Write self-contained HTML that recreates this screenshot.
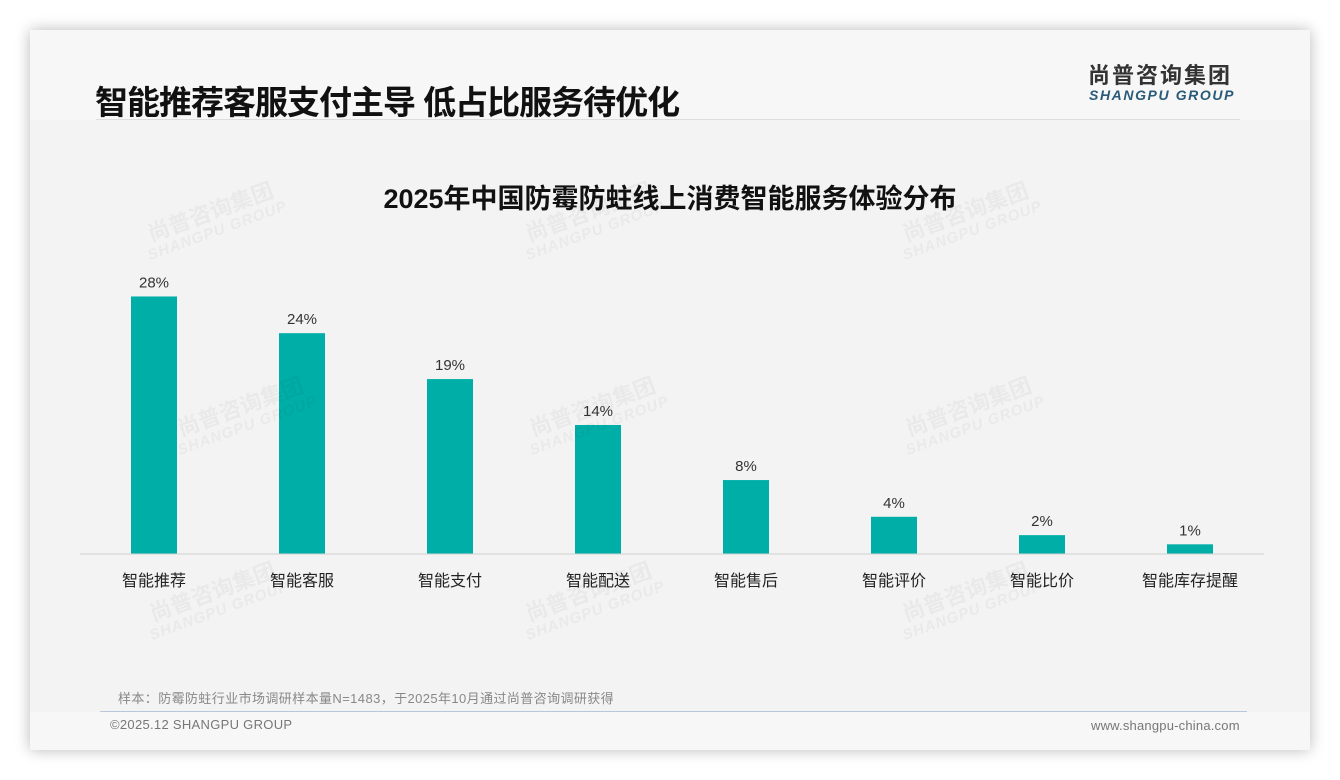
<!DOCTYPE html>
<html><head><meta charset="utf-8"><style>
body{margin:0;width:1340px;height:780px;background:#fff;font-family:"Liberation Sans","Noto Sans CJK SC",sans-serif;position:relative;overflow:hidden}
.card{position:absolute;left:30px;top:30px;width:1280px;height:720px;background:#f7f7f7;box-shadow:0 0 14px rgba(0,0,0,.28)}
.panel{position:absolute;left:30px;top:120px;width:1280px;height:592px;background:#f3f3f3}
.abs{position:absolute}
.wm{position:absolute;color:rgba(0,0,0,.04);font-weight:bold;transform:rotate(-20deg);text-align:center;line-height:1.1}
</style></head><body>
<div class="card"></div>
<div class="panel"></div>
<div class="abs" style="left:95px;top:76px;font-size:33px;font-weight:bold;color:#111;letter-spacing:-1px">智能推荐客服支付主导 低占比服务待优化</div>
<div class="abs" style="left:96px;top:119px;width:1144px;height:1px;background:#ddd"></div>
<div class="abs" style="left:1088px;top:65px;font-size:22px;line-height:1;font-weight:bold;color:#333;letter-spacing:2px">尚普咨询集团</div>
<div class="abs" style="left:1089px;top:88px;font-size:14px;line-height:1;font-weight:bold;font-style:italic;color:#2a5a7a;letter-spacing:1.6px">SHANGPU GROUP</div>
<div class="abs" style="left:0;width:1340px;text-align:center;top:177px;font-size:27px;font-weight:bold;color:#111">2025年中国防霉防蛀线上消费智能服务体验分布</div>
<svg class="abs" style="left:0;top:0" width="1340" height="780"></svg>
<div class="abs" style="left:118px;top:688px;font-size:13px;color:#888;letter-spacing:0.4px">样本：防霉防蛀行业市场调研样本量N=1483，于2025年10月通过尚普咨询调研获得</div>
<div class="abs" style="left:100px;top:711px;width:1147px;height:1px;background:#b8c8d8"></div>
<div class="abs" style="left:110px;top:717px;font-size:13px;color:#777;letter-spacing:0.3px">©2025.12 SHANGPU GROUP</div>
<div class="abs" style="left:1091px;top:718px;font-size:13px;color:#777;letter-spacing:0.2px">www.shangpu-china.com</div>
<div id="wms"></div>
<script>
const categories=["智能推荐","智能客服","智能支付","智能配送","智能售后","智能评价","智能比价","智能库存提醒"];
const values=[28,24,19,14,8,4,2,1];
const valueLabels=["28%","24%","19%","14%","8%","4%","2%","1%"];
const svg=document.querySelector('svg');const NS='http://www.w3.org/2000/svg';
const x0=80,x1=1264,base=553.5,ppu=9.18,bw=46;
const step=(x1-x0)/categories.length;
const xs=i=>x0+step*(i+0.5);
const ys=v=>base-v*ppu;
function mk(t,a){const e=document.createElementNS(NS,t);for(const k in a)e.setAttribute(k,a[k]);svg.appendChild(e);return e;}
const ax=mk('line',{x1:x0,x2:x1,y1:base+0.5,y2:base+0.5,stroke:'#d0d0d0','stroke-width':1});


categories.forEach((c,i)=>{
 const r=mk('rect',{x:xs(i)-bw/2,y:ys(values[i]),width:bw,height:values[i]*ppu,fill:'#00aea8'});
 
 
 const t=mk('text',{x:xs(i),y:ys(values[i])-9,'text-anchor':'middle','font-size':15,fill:'#333'});t.textContent=valueLabels[i];
 
 
 const l=mk('text',{x:xs(i),y:586,'text-anchor':'middle','font-size':16,fill:'#222'});l.textContent=c;
 
 
});
const w=document.getElementById('wms');
[[140,200],[518,200],[895,200],[170,395],[522,395],[898,395],[142,580],[518,580],[895,580]].forEach(p=>{
 const d=document.createElement('div');d.className='wm';d.style.left=p[0]+'px';d.style.top=p[1]+'px';
 d.innerHTML='<div style="font-size:22px">尚普咨询集团</div><div style="font-size:15px;font-style:italic;letter-spacing:1px">SHANGPU GROUP</div>';
 
 
 w.appendChild(d);
});
</script>
</body></html>
